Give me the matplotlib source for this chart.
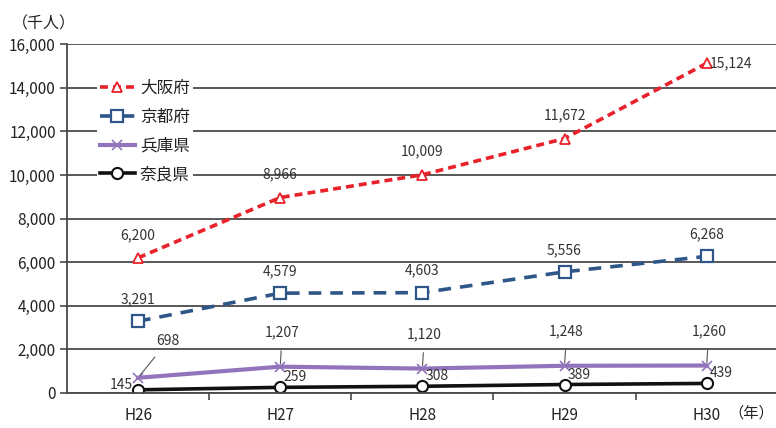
import matplotlib
matplotlib.use("Agg")
import matplotlib.pyplot as plt

plt.rcParams['font.family'] = ['Noto Sans CJK JP', 'DejaVu Sans']

years = ["H26", "H27", "H28", "H29", "H30"]
osaka = [6200, 8966, 10009, 11672, 15124]
kyoto = [3291, 4579, 4603, 5556, 6268]
hyogo = [698, 1207, 1120, 1248, 1260]
nara = [145, 259, 308, 389, 439]
y_ticks = [0, 2000, 4000, 6000, 8000, 10000, 12000, 14000, 16000]

x = list(range(len(years)))

fig = plt.figure(figsize=(7.76, 4.28), dpi=100)
ax = fig.add_axes([0.0863, 0.0818, 0.916, 0.815])

grid_col = "#4a4a4a"
ax.set_ylim(0, 16000)
ax.set_xlim(-0.5, 4.5)
ax.set_yticks(y_ticks)
ax.set_yticklabels(["{:,}".format(v) for v in y_ticks], fontsize=11, color="#222222")
ax.yaxis.grid(True, color=grid_col, linewidth=1.3)
ax.set_axisbelow(True)
ax.set_xticks(x)
ax.set_xticklabels(years, fontsize=11, color="#222222")
ax.set_xticks([0.5, 1.5, 2.5, 3.5], minor=True)
ax.tick_params(axis="x", which="major", length=0, pad=10)
ax.tick_params(axis="x", which="minor", length=5, width=1.2, color=grid_col, direction="out")
ax.tick_params(axis="y", length=5, width=1.2, color=grid_col, pad=3)
for s in ["top", "right"]:
    ax.spines[s].set_visible(False)
for s in ["left", "bottom"]:
    ax.spines[s].set_color(grid_col)
    ax.spines[s].set_linewidth(1.3)

l1, = ax.plot(x, osaka, color="#e8212b", linestyle=(0, (2.2, 1.4)), linewidth=2.6,
              marker="^", markersize=7, markerfacecolor="white", markeredgecolor="#e8212b",
              markeredgewidth=1.3, label="大阪府")
l2, = ax.plot(x, kyoto, color="#2e5689", linestyle=(0, (3.5, 2.5)), linewidth=2.6,
              marker="s", markersize=9, markerfacecolor="white", markeredgecolor="#2e5689",
              markeredgewidth=1.6, label="京都府")
l3, = ax.plot(x, hyogo, color="#9274bd", linewidth=3, marker="x", markersize=7,
              markeredgecolor="#9274bd", markeredgewidth=1.2, label="兵庫県")
l4, = ax.plot(x, nara, color="#111111", linewidth=2.6, marker="o", markersize=8,
              markerfacecolor="white", markeredgecolor="#111111", markeredgewidth=1.5,
              label="奈良県")

lab_kw = dict(textcoords="offset pixels", fontsize=10, color="#333333")

# 大阪府
for i, v in enumerate(osaka):
    if i == 4:
        ax.annotate("{:,}".format(v), (i, v), xytext=(3, 0), ha="left", va="center", **lab_kw)
    else:
        ax.annotate("{:,}".format(v), (i, v), xytext=(0, 23), ha="center", va="center", **lab_kw)

# 京都府
for i, v in enumerate(kyoto):
    ax.annotate("{:,}".format(v), (i, v), xytext=(0, 22), ha="center", va="center", **lab_kw)

# 兵庫県 (leader lines)
arrow = dict(arrowstyle="-", color="#555555", linewidth=0.8, shrinkA=6, shrinkB=2)
for i, v in enumerate(hyogo):
    if i == 0:
        ax.annotate("{:,}".format(v), (i, v), xytext=(30, 37), ha="center", va="center",
                    arrowprops=arrow, **lab_kw)
    else:
        ax.annotate("{:,}".format(v), (i, v), xytext=(2, 34), ha="center", va="center",
                    arrowprops=arrow, **lab_kw)

# 奈良県
for i, v in enumerate(nara):
    if i == 0:
        ax.annotate("{:,}".format(v), (i, v), xytext=(-5, 5), ha="right", va="center", **lab_kw)
    else:
        ax.annotate("{:,}".format(v), (i, v), xytext=(3, 10), ha="left", va="center", **lab_kw)

leg = ax.legend(handles=[l1, l2, l3, l4], loc="upper left", bbox_to_anchor=(0.03, 0.93),
                frameon=True, facecolor="white", edgecolor="none", framealpha=1,
                fontsize=12, handlelength=2.1, handletextpad=0.3, labelspacing=0.7,
                borderpad=0.2, fancybox=False)
for t in leg.get_texts():
    t.set_color("#222222")

fig.text(0.015, 0.945, "（千人）", fontsize=11.5, ha="left", va="center", color="#222222")
fig.text(0.997, 0.035, "（年）", fontsize=11, ha="right", va="center", color="#222222")

fig.savefig("out.png", dpi=100)
